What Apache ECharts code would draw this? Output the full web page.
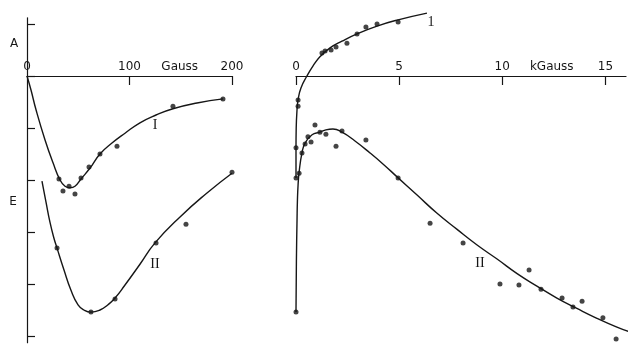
<!DOCTYPE html>
<html>
<head>
<meta charset="utf-8">
<script src="https://cdn.jsdelivr.net/npm/echarts@6/dist/echarts.min.js"></script>
<style>
  html, body { margin: 0; padding: 0; background: #fff; }
  #chart { width: 631px; height: 344px; }
</style>
</head>
<body>
<div id="chart"></div>
<script>
// left panel, field in Gauss
const gaussTicks = [100, 200]
const gaussLabelValues = [0, 100, 149, 200]
const gaussLabelText = ['0', '100', 'Gauss', '200']

// right panel, field in kGauss
const kGaussTicks = [0, 5, 10, 15]
const kGaussLabelValues = [0, 5, 10, 12.4, 15]
const kGaussLabelText = ['0', '5', '10', 'kGauss', '15']

// y has no numbers, only ticks (1 unit = 1 tick step)
const yTicks = [1, 0, -1, -2, -3, -4, -5]

// curve I, low field (fitted line + measured points)
const lowCurve1 = [[0, 0], [3.9, -0.27], [8.8, -0.65], [17.6, -1.23], [25.4, -1.67], [32.2, -2.0],
  [37.1, -2.12], [42.0, -2.15], [46.8, -2.12], [52.7, -1.98], [61.5, -1.77], [71.2, -1.50],
  [82.9, -1.29], [95.6, -1.10], [110.2, -0.90], [125.9, -0.75], [142.4, -0.63], [165.9, -0.52], [191.2, -0.44]]
const lowPoints1 = [[31.2, -1.98], [35.1, -2.21], [41.0, -2.12], [46.8, -2.27], [52.7, -1.96],
  [60.5, -1.75], [71.2, -1.50], [87.8, -1.35], [142.4, -0.58], [191.2, -0.44]]

// curve II, low field
const lowCurve2 = [[14.6, -2.02], [18.5, -2.42], [22.4, -2.81], [26.3, -3.12], [29.3, -3.31],
  [36.1, -3.73], [42.9, -4.12], [49.8, -4.40], [55.6, -4.50], [62.4, -4.54], [71.2, -4.50],
  [79.0, -4.40], [85.9, -4.27], [95.6, -4.02], [110.2, -3.62], [124.9, -3.21], [149.3, -2.71],
  [175.6, -2.25], [200, -1.87]]
const lowPoints2 = [[29.3, -3.31], [62.4, -4.54], [85.9, -4.29], [125.9, -3.21], [155.1, -2.85], [200, -1.85]]

// curve I, high field
const highCurve1 = [[0, -1.96], [0, -1.38], [0.01, -1.0], [0.05, -0.65], [0.1, -0.46], [0.24, -0.23], [0.53, 0],
  [0.82, 0.19], [1.16, 0.37], [1.65, 0.54], [2.23, 0.67], [2.96, 0.81], [3.93, 0.96], [4.95, 1.08], [6.35, 1.21]]
const highPoints1 = [[0, -1.38], [0.1, -0.46], [0.1, -0.58], [1.26, 0.44], [1.41, 0.48], [1.70, 0.50],
  [1.94, 0.56], [2.47, 0.63], [2.96, 0.81], [3.39, 0.94], [3.93, 1.0], [4.95, 1.04]]

// curve II, high field
const highCurve2 = [[0, -4.54], [0.02, -3.54], [0.05, -2.77], [0.07, -2.38], [0.1, -2.10], [0.15, -1.85],
  [0.29, -1.48], [0.44, -1.29], [0.78, -1.13], [1.16, -1.08], [1.41, -1.04], [1.79, -1.02], [2.23, -1.08],
  [2.86, -1.25], [3.59, -1.48], [4.27, -1.71], [4.90, -1.94], [5.87, -2.29], [6.84, -2.64], [7.81, -2.95],
  [8.78, -3.25], [9.75, -3.52], [10.72, -3.80], [11.68, -4.04], [12.65, -4.27], [13.62, -4.47],
  [14.59, -4.66], [15.56, -4.83], [16.24, -4.93]]
const highPoints2 = [[0, -4.54], [0, -1.96], [0.15, -1.87], [0.29, -1.48], [0.44, -1.31], [0.58, -1.17],
  [0.73, -1.27], [0.92, -0.94], [1.16, -1.08], [1.45, -1.12], [1.94, -1.35], [2.23, -1.06], [3.39, -1.23],
  [4.95, -1.96], [6.50, -2.83], [8.10, -3.21], [9.89, -4.0], [10.81, -4.02], [11.30, -3.73], [11.88, -4.10],
  [12.90, -4.27], [13.43, -4.44], [13.87, -4.33], [14.88, -4.65], [15.52, -5.06]]

const ink = '#161616'
const font = 'DejaVu Sans'

const yMin = -5.13
const yMax = 1.12
const gridTop = 17.76
const gridHeight = 325
// pixel distance from grid top down to the y = 0 line
const zeroOffset = gridHeight * yMax / (yMax - yMin)

function labelFor(values, texts) {
  return function (v) {
    const i = values.indexOf(v)
    return i >= 0 ? texts[i] : ''
  }
}

function xAxisFor(grid, max, ticks, labelValues, labelText) {
  return {
    gridIndex: grid,
    type: 'value',
    position: 'top',
    offset: -zeroOffset,
    min: 0,
    max: max,
    axisLine: { show: true, onZero: false, lineStyle: { color: ink, width: 1.2 } },
    axisTick: { show: true, inside: true, length: 9, customValues: ticks, lineStyle: { color: ink, width: 1.2 } },
    axisLabel: {
      show: true,
      inside: false,
      margin: 3,
      customValues: labelValues,
      formatter: labelFor(labelValues, labelText),
      color: ink,
      fontFamily: font,
      fontSize: 12
    },
    splitLine: { show: false }
  }
}

function curve(xi, data) {
  return {
    type: 'line', xAxisIndex: xi, yAxisIndex: xi, data: data,
    smooth: 0.5, showSymbol: false, clip: false,
    lineStyle: { color: ink, width: 1.4 }
  }
}

function dots(xi, data) {
  return {
    type: 'scatter', xAxisIndex: xi, yAxisIndex: xi, data: data,
    symbol: 'circle', symbolSize: 5, clip: false,
    itemStyle: { color: ink }
  }
}

const option = {
  animation: false,
  backgroundColor: '#fff',
  grid: [
    { left: 27, top: gridTop, width: 205, height: gridHeight },
    { left: 296, top: gridTop, width: 330, height: gridHeight }
  ],
  xAxis: [
    xAxisFor(0, 200, gaussTicks, gaussLabelValues, gaussLabelText),
    xAxisFor(1, 16, kGaussTicks, kGaussLabelValues, kGaussLabelText)
  ],
  yAxis: [
    {
      gridIndex: 0, type: 'value', min: yMin, max: yMax,
      axisLine: { show: true, onZero: false, lineStyle: { color: ink, width: 1.2 } },
      axisTick: { show: true, inside: true, length: 8, customValues: yTicks, lineStyle: { color: ink, width: 1.2 } },
      axisLabel: { show: false },
      splitLine: { show: false }
    },
    {
      gridIndex: 1, type: 'value', min: yMin, max: yMax,
      axisLine: { show: false }, axisTick: { show: false }, axisLabel: { show: false }, splitLine: { show: false }
    }
  ],
  series: [
    curve(0, lowCurve1), dots(0, lowPoints1),
    curve(0, lowCurve2), dots(0, lowPoints2),
    curve(1, highCurve1), dots(1, highPoints1),
    curve(1, highCurve2), dots(1, highPoints2)
  ],
  graphic: [
    { type: 'text', x: 14, y: 44, style: { text: 'A', align: 'center', verticalAlign: 'middle', font: '12px "DejaVu Sans"', fill: ink } },
    { type: 'text', x: 13, y: 202, style: { text: 'E', align: 'center', verticalAlign: 'middle', font: '12px "DejaVu Sans"', fill: ink } },
    { type: 'text', x: 155, y: 125, style: { text: 'I', align: 'center', verticalAlign: 'middle', font: '14px "Liberation Serif"', fill: ink } },
    { type: 'text', x: 155, y: 264, style: { text: 'II', align: 'center', verticalAlign: 'middle', font: '14px "Liberation Serif"', fill: ink } },
    { type: 'text', x: 431, y: 22, style: { text: '1', align: 'center', verticalAlign: 'middle', font: '14px "Liberation Serif"', fill: ink } },
    { type: 'text', x: 480, y: 263, style: { text: 'II', align: 'center', verticalAlign: 'middle', font: '14px "Liberation Serif"', fill: ink } }
  ]
}

const chart = echarts.init(document.getElementById('chart'), null, { renderer: 'canvas' })
chart.setOption(option)
</script>
</body>
</html>
